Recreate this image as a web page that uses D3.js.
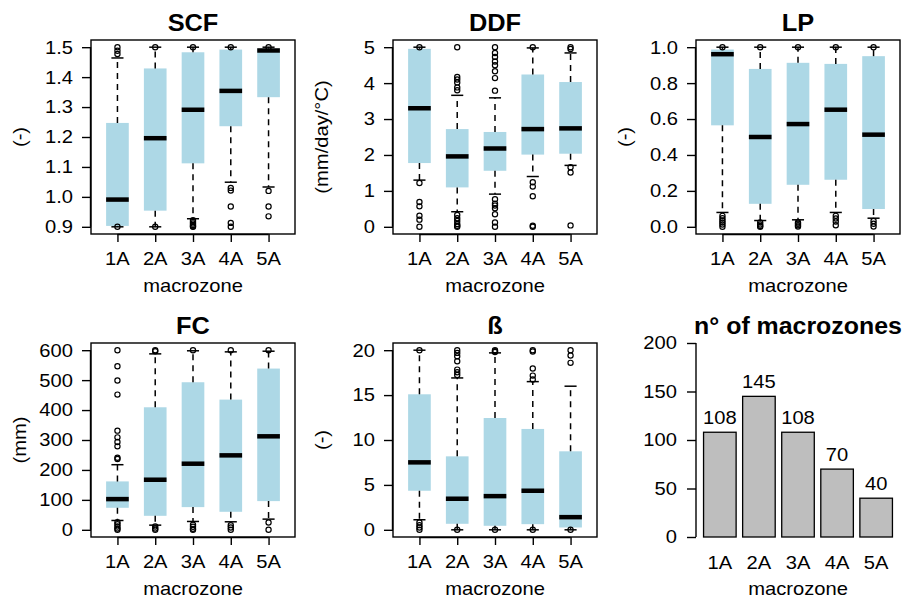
<!DOCTYPE html>
<html>
<head>
<meta charset="utf-8">
<script src="https://cdn.jsdelivr.net/npm/d3@7"></script>
<style>
  body { margin: 0; background: #fff; }
  svg { display: block; }
  text { font-family: "Liberation Sans", Arial, Helvetica, sans-serif; fill: #000; }
</style>
</head>
<body>
<svg id="chart" width="903" height="601"></svg>
<script>
// Macrozone categories
const zones = ["1A", "2A", "3A", "4A", "5A"];

// Box statistics per zone: [lower whisker, Q1, median, Q3, upper whisker]
const scfStats = [
  [0.900, 0.903, 0.991, 1.247, 1.464],
  [0.900, 0.954, 1.196, 1.429, 1.500],
  [0.927, 1.112, 1.291, 1.483, 1.500],
  [1.049, 1.236, 1.354, 1.492, 1.500],
  [1.033, 1.333, 1.489, 1.495, 1.500]
];
const scfPoints = [
  [1.500, 1.488, 1.477, 0.900],
  [1.500, 0.900],
  [1.500, 0.922, 0.916, 0.911, 0.906, 0.902, 0.900],
  [1.500, 1.030, 1.021, 0.968, 0.913, 0.900],
  [1.500, 1.020, 0.968, 0.935]
];

const ddfStats = [
  [1.30, 1.775, 3.30, 4.954, 5.00],
  [0.42, 1.097, 1.96, 2.72, 3.66],
  [0.91, 1.56, 2.18, 2.64, 3.59],
  [1.40, 2.01, 2.72, 4.24, 4.98],
  [1.71, 2.035, 2.74, 4.03, 4.84]
];
const ddfPoints = [
  [5.00, 1.22, 0.69, 0.57, 0.31, 0.20, 0.00],
  [5.00, 4.17, 4.10, 4.02, 3.88, 3.80, 0.33, 0.24, 0.16, 0.08, 0.03, 0.00],
  [5.00, 4.84, 4.73, 4.60, 4.50, 4.33, 4.14, 3.79, 0.77, 0.64, 0.59, 0.52, 0.35, 0.12, 0.00],
  [5.00, 1.24, 1.12, 0.85, 0.03, 0.00],
  [5.00, 4.95, 1.66, 1.51, 0.04]
];

const lpStats = [
  [0.080, 0.565, 0.961, 0.987, 1.000],
  [0.035, 0.128, 0.500, 0.879, 1.000],
  [0.039, 0.234, 0.572, 0.913, 1.000],
  [0.080, 0.262, 0.652, 0.907, 1.000],
  [0.048, 0.099, 0.513, 0.950, 1.000]
];
const lpPoints = [
  [1.000, 0.061, 0.048, 0.035, 0.024, 0.013, 0.000],
  [1.000, 0.024, 0.013, 0.005, 0.000],
  [1.000, 0.024, 0.017, 0.009, 0.002],
  [1.000, 0.061, 0.046, 0.030, 0.009],
  [1.000, 0.032, 0.017, 0.002]
];

const fcStats = [
  [31.2, 73.6, 102.6, 161.7, 217.5],
  [15.6, 46.8, 167.3, 409.3, 587.7],
  [27.9, 75.8, 220.8, 492.9, 598.0],
  [26.8, 60.2, 248.7, 434.9, 594.4],
  [35.7, 95.9, 312.3, 538.6, 596.6]
];
const fcPoints = [
  [600, 546.5, 498.5, 451.7, 331.2, 308.9, 293.3, 278.8, 240.9, 236.4, 25.6, 19, 11, 4.5, 0],
  [600, 596.6, 11, 4.5, 0],
  [600, 16.7, 10, 3.3, 0],
  [600, 15.6, 7.8, 0],
  [600, 24.5, 0]
];

const betaStats = [
  [1.12, 4.35, 7.51, 15.09, 20.00],
  [0.00, 0.67, 3.46, 8.18, 16.91],
  [0.00, 0.45, 3.75, 12.45, 19.70],
  [0.00, 0.63, 4.35, 11.23, 16.50],
  [0.00, 0.26, 1.41, 8.74, 15.99]
];
const betaPoints = [
  [20.00, 0.82, 0.52, 0.26, 0.00],
  [20.00, 19.70, 19.33, 18.77, 17.84, 17.55, 17.25, 0.00],
  [20.00, 19.90, 19.80, 0.00],
  [20.00, 19.85, 17.96, 17.17, 16.73, 0.00],
  [20.00, 19.40, 18.59, 0.00]
];

// Number of catchments in each macrozone
const counts = [108, 145, 108, 70, 40];

// Axis tick values
const scfTicks = [0.9, 1.0, 1.1, 1.2, 1.3, 1.4, 1.5];
const ddfTicks = [0, 1, 2, 3, 4, 5];
const lpTicks = [0.0, 0.2, 0.4, 0.6, 0.8, 1.0];
const fcTicks = [0, 100, 200, 300, 400, 500, 600];
const betaTicks = [0, 5, 10, 15, 20];
const countTicks = [0, 50, 100, 150, 200];

const svg = d3.select("#chart");
const FS = 18;        // regular text size
const TFS = 23.5;     // title size
const SX = 1.12;      // horizontal text stretch

// Panel grid
const colX = [91, 393, 696];
const rowY = [40, 343];
const PW = 204, PH = 194;

function label(g, x, y, str, opt = {}) {
  const rot = opt.rotate ? " rotate(-90)" : "";
  return g.append("text")
    .attr("transform", `translate(${x},${y})${rot} scale(${opt.sx || SX},1)`)
    .attr("text-anchor", opt.anchor || "middle")
    .attr("font-size", opt.size || FS)
    .attr("font-weight", opt.bold ? "bold" : "normal")
    .text(str);
}

const panels = [
  { title: "SCF", ylab: "(-)", stats: scfStats, pts: scfPoints, ticks: scfTicks, fmt: d3.format(".1f"), col: 0, row: 0 },
  { title: "DDF", ylab: "(mm/day/°C)", stats: ddfStats, pts: ddfPoints, ticks: ddfTicks, fmt: d3.format("d"), col: 1, row: 0 },
  { title: "LP", ylab: "(-)", stats: lpStats, pts: lpPoints, ticks: lpTicks, fmt: d3.format(".1f"), col: 2, row: 0 },
  { title: "FC", ylab: "(mm)", stats: fcStats, pts: fcPoints, ticks: fcTicks, fmt: d3.format("d"), col: 0, row: 1 },
  { title: "ß", ylab: "(-)", stats: betaStats, pts: betaPoints, ticks: betaTicks, fmt: d3.format("d"), col: 1, row: 1 }
];

panels.forEach(p => {
  const x0 = colX[p.col], y0 = rowY[p.row];
  const x1 = x0 + PW, y1 = y0 + PH;
  const lo = p.ticks[0], hi = p.ticks[p.ticks.length - 1];
  const pad = (hi - lo) * 0.04;
  const y = d3.scaleLinear().domain([lo - pad, hi + pad]).range([y1, y0]);
  const x = d3.scaleLinear().domain([0.3, 5.7]).range([x0, x1]);
  const bw = x(1.3) - x(1);     // box half-width
  const sw = x(1.16) - x(1);    // staple half-width
  const g = svg.append("g");

  zones.forEach((z, i) => {
    const s = p.stats[i];
    const cx = x(i + 1);
    // box
    g.append("rect")
      .attr("x", cx - bw).attr("width", 2 * bw)
      .attr("y", y(s[3])).attr("height", y(s[1]) - y(s[3]))
      .attr("fill", "#add8e6");
    // whiskers
    [[s[3], s[4]], [s[1], s[0]]].forEach(([a, b]) => {
      g.append("line")
        .attr("x1", cx).attr("x2", cx)
        .attr("y1", y(a)).attr("y2", y(b))
        .attr("stroke", "#000").attr("stroke-width", 1.5)
        .attr("stroke-dasharray", "6,5");
    });
    // staples
    [s[0], s[4]].forEach(v => {
      g.append("line")
        .attr("x1", cx - sw).attr("x2", cx + sw)
        .attr("y1", y(v)).attr("y2", y(v))
        .attr("stroke", "#000").attr("stroke-width", 1.5);
    });
    // median
    g.append("line")
      .attr("x1", cx - bw).attr("x2", cx + bw)
      .attr("y1", y(s[2])).attr("y2", y(s[2]))
      .attr("stroke", "#000").attr("stroke-width", 4.5);
    // outlying points
    g.selectAll(null).data(p.pts[i]).enter().append("circle")
      .attr("cx", cx).attr("cy", d => y(d)).attr("r", 2.6)
      .attr("fill", "none").attr("stroke", "#000").attr("stroke-width", 1.2);
  });

  // frame
  g.append("rect")
    .attr("x", x0).attr("y", y0).attr("width", PW).attr("height", PH)
    .attr("fill", "none").attr("stroke", "#000").attr("stroke-width", 1.4);

  // y axis
  const ya = g.append("g").attr("transform", `translate(${x0},0)`)
    .call(d3.axisLeft(y).tickValues(p.ticks).tickSize(9).tickFormat(""));
  ya.select(".domain").attr("d", `M-0.5,${y(lo)}V${y(hi)}`).attr("stroke-width", 1.4);
  ya.selectAll(".tick line").attr("stroke-width", 1.4);
  p.ticks.forEach(t => label(g, x0 - 18, y(t) + 6.4, p.fmt(t), { anchor: "end" }));

  // x axis
  const xa = g.append("g").attr("transform", `translate(0,${y1})`)
    .call(d3.axisBottom(x).tickValues([1, 2, 3, 4, 5]).tickSize(8).tickFormat(""));
  xa.select(".domain").attr("d", `M${x(1)},0.5H${x(5)}`).attr("stroke-width", 1.4);
  xa.selectAll(".tick line").attr("stroke-width", 1.4);
  zones.forEach((z, i) => label(g, x(i + 1), y1 + 31, z));

  // titles
  label(g, (x0 + x1) / 2, y0 - 9, p.title, { size: TFS, bold: true, sx: 1.08 });
  label(g, x0 - 65, (y0 + y1) / 2, p.ylab, { rotate: true });
  label(g, (x0 + x1) / 2, y1 + 58, "macrozone");
});

// Bar panel: number of catchments per macrozone
(function () {
  const x0 = colX[2], y0 = rowY[1];
  const x1 = x0 + PW, y1 = y0 + PH;
  const y = d3.scaleLinear().domain([0, 200]).range([y1, y0]);
  const x = d3.scaleLinear().domain([-0.032, 6.232]).range([x0, x1]);
  const g = svg.append("g");

  g.selectAll(null).data(counts).enter().append("rect")
    .attr("x", (d, i) => x(0.2 + i * 1.2))
    .attr("width", x(1) - x(0))
    .attr("y", d => y(d))
    .attr("height", d => y(0) - y(d))
    .attr("fill", "#bebebe").attr("stroke", "#000").attr("stroke-width", 1.3);

  counts.forEach((c, i) => label(g, x(0.7 + i * 1.2), y(c) - 8, String(c)));
  zones.forEach((z, i) => label(g, x(0.7 + i * 1.2), y1 + 32, z));

  const ya = g.append("g").attr("transform", `translate(${x0},0)`)
    .call(d3.axisLeft(y).tickValues(countTicks).tickSize(9).tickFormat(""));
  ya.select(".domain").attr("d", `M0,${y(0)}V${y(200)}`).attr("stroke-width", 1.4);
  ya.selectAll(".tick line").attr("stroke-width", 1.4);
  countTicks.forEach(t => label(g, x0 - 19, y(t) + 6.4, String(t), { anchor: "end" }));

  label(g, (x0 + x1) / 2, y0 - 9, "n° of macrozones", { size: TFS, bold: true, sx: 1.06 });
  label(g, (x0 + x1) / 2, y1 + 58, "macrozone");
})();
</script>
</body>
</html>
